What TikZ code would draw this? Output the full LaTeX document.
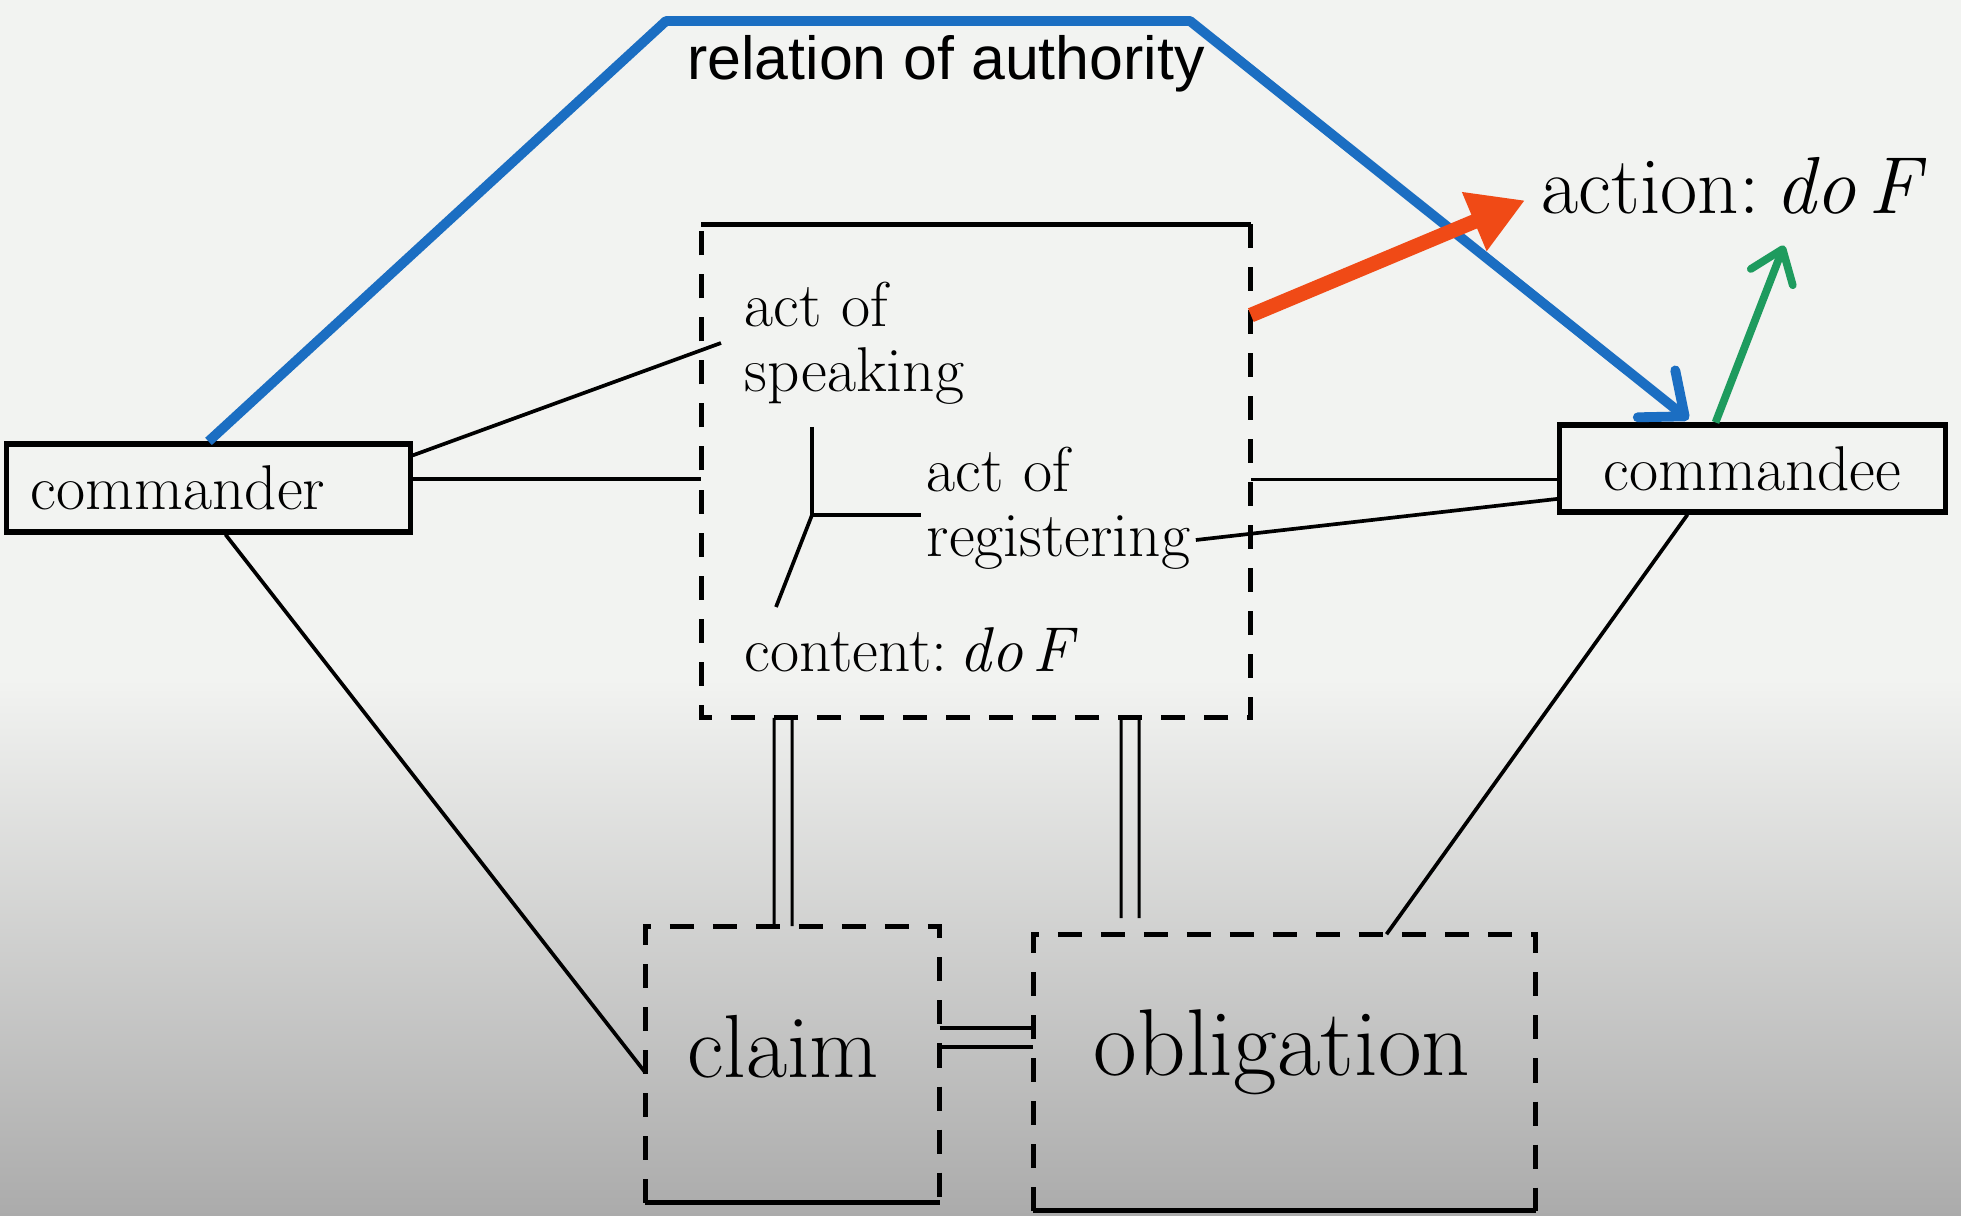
\documentclass[tikz,border=0pt]{standalone}
\usepackage{fontspec}
\newfontfamily\arialf{Liberation Sans}
\usetikzlibrary{arrows.meta,calc}
\definecolor{bgtop}{HTML}{F2F3F1}
\definecolor{bgbot}{HTML}{ABABAB}
\definecolor{authblue}{HTML}{1B6EC2}
\definecolor{actred}{HTML}{F04A16}
\definecolor{actgreen}{HTML}{1E9B5E}
\begin{document}
\frenchspacing
\begin{tikzpicture}[x=0.01cm,y=-0.01cm,
  conn/.style={line width=1.05pt},
  solidbox/.style={draw, line width=1.45pt, inner sep=0pt},
  dbox/.style={draw=none, inner sep=0pt},
  dashedge/.style={line width=1.4pt, dash pattern=on 0.24cm off 0.19cm},
  solidedge/.style={line width=1.4pt},
  txtbody/.style={font=\fontsize{18}{18.5}\selectfont, inner sep=0pt},
  thinrule/.style={line width=0.85pt},
  thickrule/.style={line width=1.4pt},
  barb/.style={-{Straight Barb[length=0.36cm,width=0.6cm,round]}},
]
\fill[bgtop] (0,0) rectangle (1961,680);
\shade[top color=bgtop, bottom color=bgbot] (0,679) rectangle (1961,1216);
\useasboundingbox (0,0) rectangle (1961,1216);

% nodes
\node[solidbox, text width=3.55cm, align=left, inner xsep=0.24cm, minimum height=0.88cm, font=\fontsize{18}{20}\selectfont] (commander) at (208.5,488) {commander};
\node[solidbox, minimum width=3.85cm, minimum height=0.87cm, font=\fontsize{18}{20}\selectfont] (commandee) at (1752.5,468.5) {commandee};
\node[dbox, minimum width=5.48cm, minimum height=4.92cm] (main) at (976,471) {};
\node[dbox, minimum width=2.93cm, minimum height=2.75cm] (claim) at (792.5,1064.5) {};
\node[dbox, minimum width=5.01cm, minimum height=2.75cm] (oblig) at (1284.5,1072.5) {};

\node[font=\fontsize{25.5}{28}\selectfont, inner sep=0pt, anchor=base] (claimtxt) at (783,1077) {claim};
\node[font=\fontsize{27}{30}\selectfont, inner sep=0pt, anchor=base] (obligtxt) at (1282,1075) {obligation};

\node[txtbody, align=left, inner xsep=0.23cm, anchor=west] (speak) at (721,343) {act of\\speaking};
\node[txtbody, align=left, inner xsep=0.05cm, anchor=west] (regist) at (921,508) {act of\\registering};
\node[txtbody, anchor=base west] (content) at (744,671) {content:\hspace{0.2em}\textit{do\hspace{0.15em}F}};
\node[font=\fontsize{23}{26}\selectfont, inner sep=0pt, anchor=base west] (action) at (1541,214) {action:\hspace{0.2em}\textit{do\hspace{0.15em}F}};
\node[font=\arialf\fontsize{17.3}{20}\selectfont, inner sep=0pt] (auth) at (946,64) {relation of authority};

% dashed boxes
\draw[solidedge] (main.north west) -- (main.north east);
\draw[dashedge] (main.north east) -- (main.south east) -- (main.south west) -- (main.north west);
\draw[dashedge] (claim.south west) -- (claim.north west) -- (claim.north east) -- (claim.south east);
\draw[solidedge] (claim.south west) -- (claim.south east);
\draw[dashedge] (oblig.south west) -- (oblig.north west) -- (oblig.north east) -- (oblig.south east);
\draw[solidedge] (oblig.south west) -- (oblig.south east);

% Y junction
\coordinate (yj) at (812,515);
\coordinate (yt) at (812,427);
\coordinate (yb) at (776,607);
\draw[conn] (yt) -- (yj) -- (yj -| regist.west);
\draw[conn] (yj) -- (yb);

% connectors
\coordinate (cmA) at ($(commander.north east)!0.15!(commander.south east)$);
\coordinate (cmB) at ($(commander.north east)!0.40!(commander.south east)$);
\draw[conn] (cmA) -- (speak.west);
\draw[conn] (cmB) -- (cmB -| main.west);
\coordinate (cdA) at ($(commandee.north west)!0.62!(commandee.south west)$);
\coordinate (cdB) at ($(commandee.north west)!0.83!(commandee.south west)$);
\draw[conn] (cdA -| main.east) -- (cdA);
\draw[conn] ($(regist.east)+(0,32)$) -- (cdB);
\draw[conn] ($(commander.south)+(17,0)$) -- ($(claim.west)+(0,8)$);
\draw[conn] ($(commandee.south)+(-65,0)$) -- ($(oblig.north)+(102,0)$);

% double lines (two parallel rules each)
\coordinate (dcT) at ($(main.south west)+(82,0)$);
\coordinate (dcB) at ($(claim.north west)+(138,0)$);
\draw[thinrule] ($(dcT)+(-9,0)$) -- ($(dcB)+(-9,0)$);
\draw[thinrule] ($(dcT)+(9,0)$) -- ($(dcB)+(9,0)$);
\coordinate (doT) at ($(main.south west)+(429,0)$);
\coordinate (doB) at ($(oblig.north west)+(97,-16)$);
\draw[thinrule] ($(doT)+(-9,0)$) -- ($(doB)+(-9,0)$);
\draw[thinrule] ($(doT)+(9,0)$) -- ($(doB)+(9,0)$);
\coordinate (hd) at ($(claim.east)+(0,-27)$);
\draw[thickrule] ($(hd)+(0,-9.5)$) -- ($(hd -| oblig.west)+(0,-9.5)$);
\draw[thickrule] ($(hd)+(0,9.5)$) -- ($(hd -| oblig.west)+(0,9.5)$);

% coloured arrows
\coordinate (b1) at (666,21);
\coordinate (b2) at (1190,21);
\draw[authblue, line width=2.8pt, line join=round, barb] (commander.north) -- (b1) -- (b2) -- ($(commandee.north)+(-64,-3)$);
\draw[actred, line width=4.2pt, -{Triangle[length=0.55cm,width=0.6cm]}] ($(main.north east)+(0,91)$) -- ($(action.west)+(-16,14)$);
\draw[actgreen, line width=2.2pt, -{Straight Barb[length=0.3cm,width=0.45cm,round]}] ($(commandee.north)+(-37,0)$) -- ($(action.south west)+(243,30)$);
\end{tikzpicture}
\end{document}
